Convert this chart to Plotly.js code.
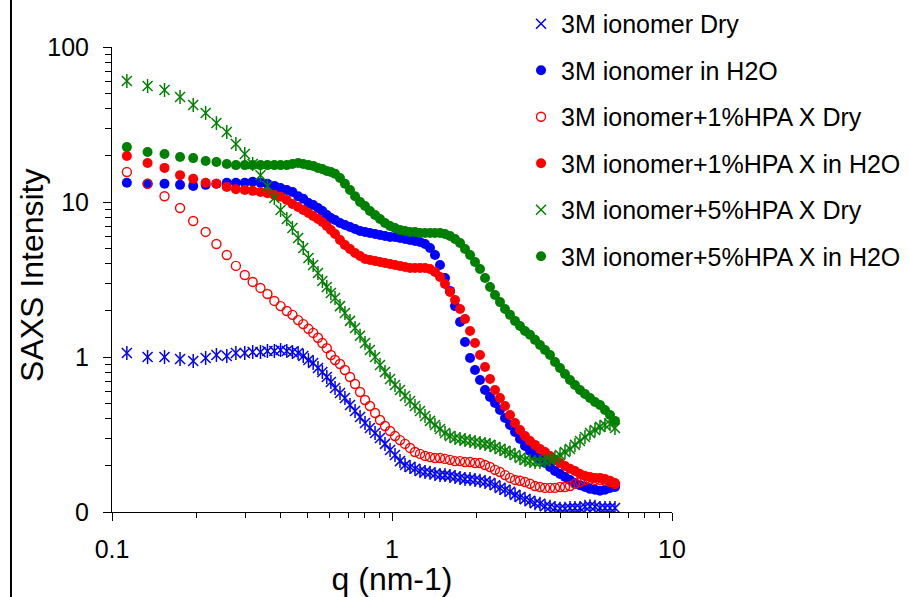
<!DOCTYPE html>
<html>
<head>
<meta charset="utf-8">
<script src="https://cdn.plot.ly/plotly-3.0.1.min.js"></script>
<style>html,body{margin:0;padding:0;background:#fff;}#chart{width:909px;height:597px;}</style>
</head>
<body>
<div id="chart"></div>
<script>
// q (nm-1)
const q = [0.113,0.134,0.154,0.175,0.195,0.216,0.236,0.257,0.277,0.298,0.318,0.339,0.359,0.380,0.400,0.421,0.441,0.462,0.482,0.503,0.523,0.544,0.564,0.585,0.605,
0.626,0.652,0.679,0.708,0.738,0.769,0.801,0.834,0.870,0.906,0.944,0.984,1.025,1.068,1.113,1.160,1.208,1.259,1.312,1.367,1.424,1.484,1.546,1.611,1.679,1.750,1.823,1.900,1.979,2.062,2.149,2.239,2.333,2.431,2.533,2.639,2.750,2.865,2.985,3.111,3.241,3.377,3.519,3.667,3.820,3.981,4.148,4.322,4.503,4.692,4.889,5.094,5.309,5.532,5.764,6.005,6.257];

const dry3M = [1.061,1.000,1.000,0.971,0.942,0.985,1.030,1.015,1.061,1.061,1.077,1.077,1.093,1.093,1.109,1.093,1.077,1.061,1.015,0.956,0.915,0.849,0.800,0.743,0.690,
0.631,0.586,0.544,0.490,0.448,0.410,0.375,0.348,0.323,0.300,0.275,0.251,0.233,0.213,0.201,0.195,0.190,0.184,0.181,0.179,0.176,0.173,0.173,0.171,0.168,0.166,0.163,0.163,0.161,0.159,0.156,0.154,0.149,0.143,0.139,0.135,0.129,0.125,0.121,0.118,0.114,0.113,0.109,0.108,0.106,0.105,0.105,0.106,0.106,0.106,0.108,0.109,0.108,0.106,0.106,0.106,0.106];

const h2o3M = [13.3,13.1,13.1,12.9,12.7,12.9,13.1,13.3,13.3,13.3,13.5,13.3,13.1,12.7,12.3,11.95,11.6,10.9,10.5,9.85,9.56,9.15,8.75,8.25,7.89,
7.66,7.32,7.11,6.90,6.70,6.50,6.41,6.31,6.22,6.13,6.04,5.95,5.95,5.86,5.77,5.69,5.60,5.52,5.36,5.05,4.55,3.92,3.23,2.67,2.13,1.68,1.25,0.985,0.825,0.711,0.613,0.552,0.505,0.455,0.404,0.364,0.328,0.296,0.267,0.248,0.233,0.220,0.207,0.195,0.184,0.176,0.168,0.161,0.154,0.149,0.145,0.141,0.139,0.137,0.139,0.143,0.145];

const dry1HPA = [15.6,13.1,10.9,9.15,7.54,6.41,5.36,4.55,3.87,3.38,3.05,2.79,2.55,2.30,2.13,1.98,1.87,1.73,1.63,1.52,1.43,1.33,1.23,1.14,1.03,
0.956,0.901,0.825,0.743,0.670,0.595,0.528,0.483,0.435,0.392,0.359,0.333,0.309,0.291,0.275,0.259,0.244,0.237,0.230,0.226,0.223,0.223,0.220,0.217,0.213,0.213,0.210,0.210,0.207,0.207,0.201,0.195,0.187,0.181,0.173,0.166,0.161,0.159,0.156,0.152,0.147,0.145,0.143,0.143,0.143,0.145,0.145,0.147,0.152,0.156,0.161,0.163,0.161,0.161,0.159,0.156,0.152];

const h2o1HPA = [19.8,17.85,16.6,14.9,14.1,13.3,13.1,12.5,12.1,11.95,11.8,11.6,11.4,11.1,10.8,10.3,9.71,9.28,8.88,8.49,8.12,7.77,7.43,7.00,6.60,
6.22,5.69,5.28,4.98,4.69,4.48,4.29,4.23,4.16,4.10,4.04,3.98,3.92,3.87,3.81,3.75,3.75,3.75,3.75,3.70,3.54,3.28,2.96,2.63,2.33,2.04,1.76,1.47,1.23,1.03,0.862,0.721,0.613,0.544,0.483,0.423,0.375,0.338,0.309,0.287,0.271,0.255,0.244,0.230,0.217,0.207,0.198,0.190,0.184,0.176,0.171,0.168,0.166,0.166,0.163,0.159,0.154];

const dry5HPA = [60.4,56.0,52.8,47.6,42.3,37.5,32.3,28.3,23.7,20.4,17.6,14.9,12.7,10.6,8.88,7.77,6.80,5.86,5.05,4.35,3.92,3.48,3.09,2.83,2.59,
2.40,2.13,1.92,1.71,1.54,1.37,1.23,1.11,1.00,0.888,0.800,0.721,0.660,0.613,0.560,0.520,0.483,0.448,0.416,0.387,0.364,0.343,0.323,0.309,0.300,0.296,0.291,0.287,0.283,0.279,0.275,0.271,0.263,0.255,0.248,0.240,0.233,0.223,0.217,0.213,0.210,0.210,0.213,0.217,0.223,0.233,0.244,0.255,0.271,0.287,0.305,0.323,0.338,0.354,0.364,0.370,0.348,0.305];

const h2o5HPA = [22.6,21.0,20.4,19.5,19.2,18.4,18.1,17.6,17.3,17.3,17.3,17.3,17.3,17.3,17.3,17.3,17.6,17.85,17.6,17.3,17.1,16.6,16.3,15.85,15.6,
15.2,14.3,13.1,11.95,10.9,10.0,9.42,8.75,8.25,7.77,7.32,7.00,6.80,6.60,6.50,6.41,6.41,6.31,6.31,6.31,6.31,6.31,6.22,6.04,5.77,5.44,4.98,4.55,4.10,3.70,3.23,2.83,2.51,2.26,2.04,1.87,1.71,1.585,1.47,1.39,1.29,1.195,1.11,1.03,0.928,0.849,0.777,0.711,0.660,0.613,0.577,0.544,0.513,0.490,0.455,0.423,0.387];

const seriesNames = ['3M ionomer Dry','3M ionomer in H2O','3M ionomer+1%HPA X Dry','3M ionomer+1%HPA X in H2O','3M ionomer+5%HPA X Dry','3M ionomer+5%HPA X in H2O'];

const xTickVals = [0.1,1,10];
const xTickText = ['0.1','1','10'];
const yTickVals = [0.1,1,10,100];
const yTickText = ['0','1','10','100'];
const xTitle = 'q (nm-1)';
const yTitle = 'SAXS Intensity';

const BLUE='#0000FF', RED='#FF0000', GREEN='#008000';
const FONT = 'Liberation Sans, Arial, sans-serif';

function minorLog(lo, hi){ const v=[]; for(let e=lo;e<hi;e++){ for(let m=2;m<=9;m++) v.push(m*Math.pow(10,e)); } return v; }

function star(y, name, color, group, legend){
  return [
    {x:q, y:y, name:name, legendgroup:group, showlegend:legend, type:'scatter', mode:'markers',
     marker:{symbol:'x-thin-open', size:10, color:color, line:{color:color, width:1.5}}},
    {x:q, y:y, name:name, legendgroup:group, showlegend:false, type:'scatter', mode:'markers', hoverinfo:'skip',
     marker:{symbol:'line-ns-open', size:10, color:color, line:{color:color, width:1.5}}}
  ];
}
function dot(y, name, color, group){
  return {x:q, y:y, name:name, legendgroup:group, type:'scatter', mode:'markers',
    marker:{symbol:'circle', size:10, color:color, line:{width:0}}};
}
function ring(y, name, color, group){
  return {x:q, y:y, name:name, legendgroup:group, type:'scatter', mode:'markers',
    marker:{symbol:'circle-open', size:9, color:color, line:{color:color, width:1.4}}};
}

const data = [].concat(
  star(dry3M, seriesNames[0], BLUE, 'g0', true),
  [dot(h2o3M, seriesNames[1], BLUE, 'g1')],
  [ring(dry1HPA, seriesNames[2], RED, 'g2')],
  [dot(h2o1HPA, seriesNames[3], RED, 'g3')],
  star(dry5HPA, seriesNames[4], GREEN, 'g4', true),
  [dot(h2o5HPA, seriesNames[5], GREEN, 'g5')]
);

const layout = {
  width:909, height:597,
  margin:{l:112, r:237, t:47, b:85, pad:0, autoexpand:false},
  paper_bgcolor:'#ffffff', plot_bgcolor:'#ffffff',
  font:{family:FONT, color:'#000'},
  showlegend:true,
  legend:{x:0.7304, y:1.099, xanchor:'left', yanchor:'top', font:{family:FONT, size:25, color:'#000'},
          tracegroupgap:11, bgcolor:'rgba(0,0,0,0)', itemwidth:30},
  xaxis:{type:'log', range:[-1,1], tickmode:'array', tickvals:xTickVals, ticktext:xTickText,
         ticks:'outside', ticklen:8, tickwidth:1, tickcolor:'#000', showline:true, linecolor:'#000', linewidth:1,
         showgrid:false, zeroline:false, tickfont:{family:FONT, size:25, color:'#000'}, ticklabelstandoff:7,
         minor:{tickmode:'array', tickvals:minorLog(-1,1), ticks:'outside', ticklen:5, tickcolor:'#000', tickwidth:1, showgrid:false},
         title:{text:xTitle, font:{family:FONT, size:32, color:'#000'}, standoff:9}},
  yaxis:{type:'log', range:[-1,2], tickmode:'array', tickvals:yTickVals, ticktext:yTickText,
         ticks:'outside', ticklen:8, tickwidth:1, tickcolor:'#000', showline:true, linecolor:'#000', linewidth:1,
         showgrid:false, zeroline:false, tickfont:{family:FONT, size:25, color:'#000'}, ticklabelstandoff:9,
         minor:{tickmode:'array', tickvals:minorLog(-1,2), ticks:'outside', ticklen:6, tickcolor:'#000', tickwidth:1, showgrid:false}},
  annotations:[{text:yTitle, xref:'paper', yref:'paper', x:-0.1429, y:0.5097, xanchor:'center', yanchor:'middle',
                textangle:-90, showarrow:false, font:{family:FONT, size:32, color:'#000'}}],
  shapes:[{type:'line', xref:'paper', yref:'paper', x0:-0.1804, x1:-0.1804, y0:-0.3, y1:1.2, line:{color:'#000', width:2}}]
};

Plotly.newPlot('chart', data, layout, {staticPlot:true, displayModeBar:false});
</script>
</body>
</html>
